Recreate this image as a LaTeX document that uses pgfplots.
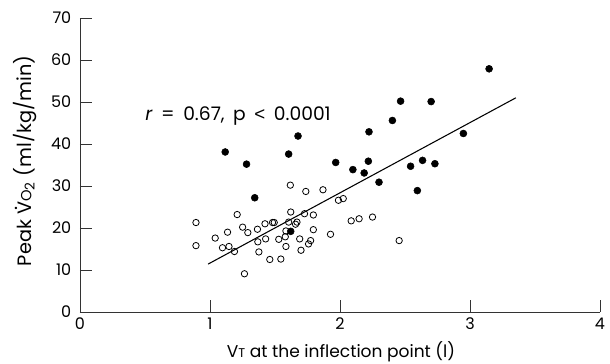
\documentclass[border=0pt]{standalone}
\usepackage{pgfplots}
\pgfplotsset{compat=1.18}
\usepackage{fontspec}
\setmainfont{Poppins}
\newfontfamily\lib{Liberation Sans}
\def\px{0.75pt}
\def\s{\hspace{0.46em}}
\begin{document}
\begin{tikzpicture}
\begin{axis}[name=ax,
  scale only axis, width=390pt, height=220.5pt,
  xmin=0, xmax=4, ymin=0, ymax=70,
  axis lines=left, axis line style={-, line width=0.7pt, black!80},
  tick style={line width=0.7pt, black!80},
  tick align=inside, major tick length=9pt,
  xtick={0,1,2,3,4}, ytick={0,10,...,70},
  /pgf/number format/assume math mode=true,
  ticklabel style={font=\fontsize{12}{14}\selectfont},
  xticklabel style={yshift=-1pt},
  yticklabel style={xshift=-3pt},
  clip=false,
  xlabel={V{\fontsize{9.5}{12}\selectfont T} at the inflection point (l)},
  ylabel={Peak \ooalign{V\cr\hidewidth\raisebox{0.72em}{.}\hidewidth\cr}{\fontsize{11}{12}\selectfont O}\textsubscript{2} (ml/kg/min)},
  every axis x label/.style={at={(axis description cs:0.502,-0.136)}, anchor=center, font=\fontsize{12.8}{16}\selectfont},
  every axis y label/.style={at={(axis description cs:-0.106,0.514)}, anchor=center, rotate=90, font=\fontsize{14.5}{16}\selectfont},
]
\addplot[only marks, mark=*, mark size=2.6pt, black] coordinates {
(3.147,57.9) (2.466,50.2) (2.701,50.1) (2.403,45.6) (2.223,42.9) (2.949,42.5)
(1.677,41.9) (1.117,38.1) (1.605,37.6) (1.281,35.2) (1.967,35.6) (2.218,35.9)
(2.635,36.1) (2.730,35.3) (2.543,34.7) (2.099,33.9) (2.186,33.1) (2.300,30.9)
(2.595,28.9) (1.344,27.2) (1.621,19.2)
};
\addplot[only marks, mark=o, mark size=2.4pt, black, mark options={line width=0.6pt}] coordinates {
(1.618,30.2) (1.737,28.7) (1.869,29.1) (1.988,26.6) (2.025,27.0) (1.209,23.2)
(1.621,23.8) (1.727,23.4) (1.795,23.1) (2.250,22.6) (2.147,22.2) (2.086,21.7)
(0.892,21.3) (1.251,20.2) (1.423,21.0) (1.481,21.3) (1.494,21.3) (1.605,21.4)
(1.658,20.9) (1.669,21.4) (1.365,19.7) (1.795,19.6) (1.135,19.0) (1.291,18.9)
(1.584,19.3) (1.927,18.5) (1.040,17.6) (1.428,17.4) (1.529,17.3) (1.579,17.9)
(1.690,17.4) (1.774,17.0) (1.758,16.2) (1.368,16.7) (2.455,17.0) (0.892,15.8)
(1.096,15.3) (1.146,15.6) (1.188,14.4) (1.584,15.6) (1.376,14.3) (1.700,14.7)
(1.460,12.5) (1.545,12.6) (1.265,9.1)
};
\addplot[black, line width=0.8pt] coordinates {(0.985,11.4) (3.353,51.0)};
\node[anchor=base west, font=\fontsize{14}{16}\selectfont, inner sep=0pt] at (axis cs:0.5,45.5) {\textit{r}\s=\s0.67,\s p\s{\lib<}\s0.0001};
\end{axis}
\pgfresetboundingbox
\path[use as bounding box] ([shift={(-80*\px,-52*\px)}]ax.south west) rectangle ([shift={(10*\px,18*\px)}]ax.north east);
\end{tikzpicture}
\end{document}
